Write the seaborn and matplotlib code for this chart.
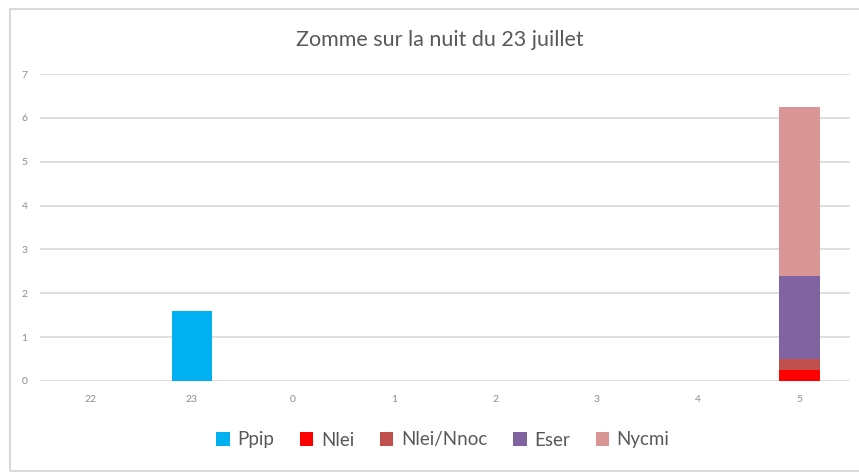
import matplotlib
matplotlib.use("Agg")
import matplotlib.pyplot as plt
from matplotlib.patches import Rectangle, Patch
import seaborn as sns
import pandas as pd
import numpy as np

hours = ["22", "23", "0", "1", "2", "3", "4", "5"]
species = ["Ppip", "Nlei", "Nlei/Nnoc", "Eser", "Nycmi"]
ppip = [0, 1.6, 0, 0, 0, 0, 0, 0]
nlei = [0, 0, 0, 0, 0, 0, 0, 0.25]
nlei_nnoc = [0, 0, 0, 0, 0, 0, 0, 0.25]
eser = [0, 0, 0, 0, 0, 0, 0, 1.9]
nycmi = [0, 0, 0, 0, 0, 0, 0, 3.85]
colors = ["#00b0f0", "#ff0000", "#c0504d", "#8064a2", "#d99694"]
title = "Zomme sur la nuit du 23 juillet"

sns.set_theme(style="white")
plt.rcParams["font.family"] = ["Lato", "DejaVu Sans"]

series = [ppip, nlei, nlei_nnoc, eser, nycmi]
cum = np.cumsum(np.array(series), axis=0)

W, H = 859, 472
fig = plt.figure(figsize=(W / 100, H / 100), dpi=100)
fig.patch.set_facecolor("white")

# outer chart frame (right side runs off the canvas)
fig.add_artist(Rectangle((10 / W, 1 - 471 / H), (W + 20 - 10) / W, (471 - 9) / H,
                         transform=fig.transFigure, fill=False,
                         edgecolor="#d9d9d9", linewidth=1.5))

ax = fig.add_axes([40 / W, 1 - 381 / H, 810 / W, (381 - 74) / H])

# stacked bars: draw cumulative totals from the top layer down
for i in reversed(range(len(species))):
    df = pd.DataFrame({"hour": hours, "value": cum[i]})
    sns.barplot(data=df, x="hour", y="value", order=hours, color=colors[i],
                width=0.4, errorbar=None, ax=ax, saturation=1,
                linewidth=0)

ax.set_ylim(0, 7)
ax.set_yticks(range(0, 8))
ax.set_xlim(-0.5, len(hours) - 0.5)
ax.yaxis.grid(True, color="#d9d9d9", linewidth=1.2)
ax.set_axisbelow(True)
for s in ax.spines.values():
    s.set_visible(False)
ax.set_xlabel("")
ax.set_ylabel("")
ax.tick_params(axis="both", length=0, labelsize=7.5, colors="#8c8c8c")
ax.tick_params(axis="x", pad=10)
ax.tick_params(axis="y", pad=9)

fig.text(440 / W, 1 - 40 / H, title, ha="center", va="center",
         fontsize=15.5, color="#595959")

handles = [Patch(facecolor=c, edgecolor="none") for c in colors]
leg = fig.legend(handles, species, loc="center", bbox_to_anchor=(443 / W, 1 - 440 / H),
                 ncol=5, frameon=False, fontsize=13.5, handlelength=0.7,
                 handleheight=0.7, handletextpad=0.4, columnspacing=1.4)
for t in leg.get_texts():
    t.set_color("#595959")

fig.savefig("out.png", dpi=100, facecolor="white")
